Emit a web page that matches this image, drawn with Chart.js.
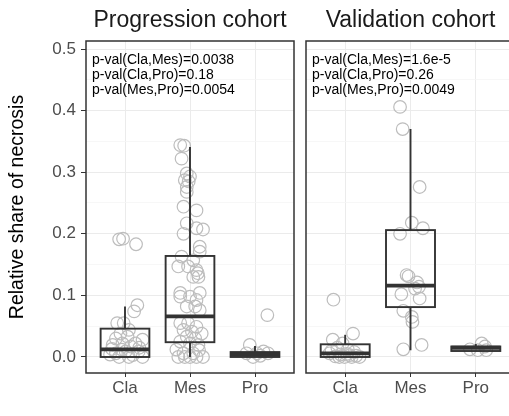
<!DOCTYPE html>
<html>
<head>
<meta charset="utf-8">
<script src="https://cdn.jsdelivr.net/npm/chart.js@4/dist/chart.umd.min.js"></script>
<style>
  html, body { margin: 0; padding: 0; background: #ffffff; }
  #wrap { position: relative; width: 509px; height: 416px; overflow: hidden; background: #fff; }
  canvas { position: absolute; top: 0; }
  #c1 { left: 0px; }
  #c2 { left: 296px; }
</style>
</head>
<body>
<div id="wrap">
  <canvas id="c1" width="300" height="416"></canvas>
  <canvas id="c2" width="219" height="416"></canvas>
</div>
<script>
// ---------------- DATA ----------------
const categories = ['Cla', 'Mes', 'Pro'];
const yMajorTicks = [0, 0.1, 0.2, 0.3, 0.4, 0.5];
const yMinorTicks = [0.05, 0.15, 0.25, 0.35, 0.45];
const panelTitles = ['Progression cohort', 'Validation cohort'];
const yAxisTitle = 'Relative share of necrosis';

const progPvalText = ['p-val(Cla,Mes)=0.0038', 'p-val(Cla,Pro)=0.18', 'p-val(Mes,Pro)=0.0054'];
const valPvalText  = ['p-val(Cla,Mes)=1.6e-5', 'p-val(Cla,Pro)=0.26', 'p-val(Mes,Pro)=0.0049'];

// box statistics per category (Cla, Mes, Pro)
const progLowerWhisker = [0.000, 0.000, 0.000];
const progQ1           = [0.000, 0.024, 0.000];
const progMedian       = [0.0125, 0.066, 0.004];
const progQ3           = [0.046, 0.164, 0.008];
const progUpperWhisker = [0.082, 0.341, 0.018];

const valLowerWhisker = [0.000, 0.011, 0.0097];
const valQ1           = [0.000, 0.081, 0.0097];
const valMedian       = [0.006, 0.116, 0.015];
const valQ3           = [0.0206, 0.206, 0.017];
const valUpperWhisker = [0.036, 0.370, 0.021];

// individual samples: values and horizontal jitter (category units)
const progClaValues = [0.191, 0.192, 0.183, 0.084, 0.074, 0.055, 0.055, 0.044, 0.038, 0.030, 0.033, 0.028, 0.0195, 0.022, 0.022, 0.017, 0.006, 0.009, 0.009, 0.000, 0.000, 0.000, 0.004, 0.003, 0.012, 0.013, 0.015];
const progClaJitter = [-0.09, -0.03, 0.17, 0.19, 0.14, -0.12, -0.02, 0.06, -0.07, -0.14, 0.04, 0.27, -0.19, -0.04, 0.16, 0.09, -0.14, 0.01, 0.21, -0.09, 0.06, 0.27, -0.23, 0.12, -0.05, -0.20, 0.22];

const progMesValues = [0.344, 0.343, 0.322, 0.298, 0.293, 0.287, 0.285, 0.276, 0.268, 0.244, 0.238, 0.217, 0.209, 0.207, 0.200, 0.179, 0.171, 0.163, 0.157, 0.147, 0.147, 0.141, 0.136, 0.130, 0.130, 0.104, 0.104, 0.098, 0.098, 0.0925, 0.082, 0.082, 0.076, 0.055, 0.055, 0.049, 0.044, 0.041, 0.038, 0.033, 0.030, 0.025, 0.022, 0.0195, 0.012, 0.011, 0.006, 0.006, 0.000, 0.000, 0.000, 0.000, 0.000];
const progMesJitter = [-0.15, -0.09, -0.13, -0.05, 0.00, -0.08, -0.02, -0.05, -0.05, -0.10, 0.10, -0.05, 0.10, 0.20, -0.10, 0.15, 0.15, -0.13, 0.05, -0.18, -0.03, 0.10, 0.12, 0.05, 0.13, -0.15, 0.15, -0.15, 0.00, 0.10, -0.05, 0.08, 0.15, -0.15, -0.03, 0.10, -0.10, 0.03, 0.18, -0.05, 0.08, -0.15, 0.00, 0.13, -0.21, 0.14, -0.10, 0.05, -0.18, -0.08, 0.00, 0.10, 0.20];

const progProValues = [0.068, 0.0195, 0.006, 0.006, 0.009, 0.006, 0.000, 0.002];
const progProJitter = [0.19, -0.08, -0.13, 0.03, 0.13, 0.20, -0.03, 0.08];

const valClaValues = [0.093, 0.038, 0.028, 0.022, 0.015, 0.012, 0.008, 0.006, 0.004, 0.003, 0.002, 0.001, 0.000, 0.000, 0.000, 0.000, 0.005, 0.010];
const valClaJitter = [-0.18, 0.12, -0.19, -0.04, -0.12, 0.04, 0.14, -0.24, -0.07, 0.07, 0.17, -0.15, -0.01, 0.10, -0.09, 0.22, 0.02, -0.21];

const valMesValues = [0.406, 0.370, 0.276, 0.218, 0.209, 0.200, 0.133, 0.131, 0.121, 0.114, 0.111, 0.102, 0.095, 0.075, 0.065, 0.057, 0.0125, 0.0195];
const valMesJitter = [-0.16, -0.12, 0.14, 0.02, 0.19, -0.16, -0.06, -0.03, 0.10, 0.13, 0.07, -0.14, 0.14, -0.11, 0.02, 0.03, -0.11, 0.17];

const valProValues = [0.0125, 0.022, 0.017, 0.011, 0.011];
const valProJitter = [-0.09, 0.09, 0.14, 0.16, 0.03];

// ---------------- HELPERS ----------------
const FONT = "'Liberation Sans', Arial, Helvetica, sans-serif";

function pts(values, jitter, catIndex) {
  return values.map((v, k) => ({ x: catIndex + 1 + jitter[k], y: v }));
}

const boxPlugin = {
  id: 'boxes',
  afterDatasetsDraw(chart) {
    const o = chart.options.plugins.boxes;
    const { ctx, chartArea } = chart;
    const x = chart.scales.x, y = chart.scales.y;
    ctx.save();
    ctx.beginPath();
    ctx.rect(chartArea.left, chartArea.top, chartArea.right - chartArea.left, chartArea.bottom - chartArea.top);
    ctx.clip();
    ctx.strokeStyle = '#333333';
    for (let i = 0; i < categories.length; i++) {
      const cx = x.getPixelForValue(i + 1);
      const half = x.getPixelForValue(i + 1 + 0.375) - cx;
      const yLo = y.getPixelForValue(o.lo[i]);
      const yQ1 = y.getPixelForValue(o.q1[i]);
      const yMed = y.getPixelForValue(o.med[i]);
      const yQ3 = y.getPixelForValue(o.q3[i]);
      const yHi = y.getPixelForValue(o.hi[i]);
      ctx.lineWidth = 1.9;
      ctx.beginPath();
      ctx.moveTo(cx, yHi); ctx.lineTo(cx, yQ3);
      ctx.moveTo(cx, yQ1); ctx.lineTo(cx, yLo);
      ctx.stroke();
      ctx.strokeRect(cx - half, yQ3, 2 * half, yQ1 - yQ3);
      ctx.lineWidth = 3.8;
      ctx.beginPath();
      ctx.moveTo(cx - half, yMed); ctx.lineTo(cx + half, yMed);
      ctx.stroke();
    }
    ctx.restore();

    // p-value annotations
    ctx.save();
    ctx.fillStyle = '#000000';
    ctx.font = '14px ' + FONT;
    ctx.textAlign = 'left';
    ctx.textBaseline = 'middle';
    o.pvals.forEach((t, k) => {
      ctx.fillText(t, chartArea.left + 6, 60 + k * 15.3);
    });
    ctx.restore();
  },
  afterDraw(chart) {
    const o = chart.options.plugins.boxes;
    const { ctx, chartArea } = chart;
    ctx.save();
    ctx.strokeStyle = '#333333';
    ctx.lineWidth = 1.5;
    ctx.strokeRect(chartArea.left, chartArea.top, chartArea.right - chartArea.left, chartArea.bottom - chartArea.top);
    ctx.fillStyle = '#1a1a1a';
    ctx.font = '23px ' + FONT;
    ctx.textAlign = 'center';
    ctx.textBaseline = 'middle';
    ctx.fillText(o.title, (chartArea.left + chartArea.right) / 2, 21);
    ctx.restore();
  }
};

function makeChart(canvasId, cfg) {
  const isMajor = v => Math.abs(Math.round(v * 100) % 10) === 0;
  return new Chart(document.getElementById(canvasId), {
    type: 'scatter',
    data: {
      datasets: [
        { data: pts(cfg.cla[0], cfg.cla[1], 0) },
        { data: pts(cfg.mes[0], cfg.mes[1], 1) },
        { data: pts(cfg.pro[0], cfg.pro[1], 2) }
      ].map(d => Object.assign(d, {
        pointRadius: 6.3,
        pointHoverRadius: 6.3,
        pointBorderWidth: 1.2,
        pointBorderColor: '#bdbdbd',
        pointBackgroundColor: 'rgba(0,0,0,0)',
        showLine: false
      }))
    },
    options: {
      responsive: false,
      animation: false,
      devicePixelRatio: 1,
      layout: { autoPadding: false, padding: { top: 41, right: cfg.padRight, left: 0, bottom: 0 } },
      plugins: {
        legend: { display: false },
        tooltip: { enabled: false },
        boxes: {
          title: cfg.title, pvals: cfg.pvals,
          lo: cfg.stats[0], q1: cfg.stats[1], med: cfg.stats[2], q3: cfg.stats[3], hi: cfg.stats[4]
        }
      },
      scales: {
        x: {
          type: 'linear', min: 0.4, max: 3.6,
          afterBuildTicks: s => { s.ticks = categories.map((c, i) => ({ value: i + 1 })); },
          afterFit: s => { s.height = 43; },
          ticks: {
            callback: (v, i) => categories[i],
            color: '#4d4d4d', font: { size: 17, family: FONT },
            padding: 1, maxRotation: 0, autoSkip: false
          },
          grid: { color: '#ebebeb', lineWidth: 1, tickColor: '#333333', tickLength: 4, drawTicks: true },
          border: { display: false }
        },
        y: {
          type: 'linear', min: -0.026, max: 0.513,
          afterBuildTicks: s => {
            s.ticks = yMajorTicks.concat(yMinorTicks).sort((a, b) => a - b).map(v => ({ value: v }));
          },
          afterFit: s => { s.width = cfg.showY ? 86 : 10; },
          ticks: {
            display: cfg.showY,
            callback: v => isMajor(v) ? v.toFixed(1) : '',
            color: '#4d4d4d', font: { size: 17, family: FONT }, padding: 5, autoSkip: false
          },
          grid: {
            color: c => isMajor(c.tick.value) ? '#ebebeb' : '#f5f5f5',
            lineWidth: c => isMajor(c.tick.value) ? 1 : 0.8,
            tickColor: c => (cfg.showY && isMajor(c.tick.value)) ? '#333333' : 'rgba(0,0,0,0)',
            tickLength: 5, drawTicks: cfg.showY
          },
          border: { display: false },
          title: {
            display: cfg.showY, text: yAxisTitle, color: '#000000',
            font: { size: 19.5, family: FONT }, padding: { top: 6, bottom: 0 }
          }
        }
      }
    },
    plugins: [boxPlugin]
  });
}

makeChart('c1', {
  showY: true, padRight: 6, title: panelTitles[0], pvals: progPvalText,
  stats: [progLowerWhisker, progQ1, progMedian, progQ3, progUpperWhisker],
  cla: [progClaValues, progClaJitter], mes: [progMesValues, progMesJitter], pro: [progProValues, progProJitter]
});
makeChart('c2', {
  showY: false, padRight: 0, title: panelTitles[1], pvals: valPvalText,
  stats: [valLowerWhisker, valQ1, valMedian, valQ3, valUpperWhisker],
  cla: [valClaValues, valClaJitter], mes: [valMesValues, valMesJitter], pro: [valProValues, valProJitter]
});
</script>
</body>
</html>
